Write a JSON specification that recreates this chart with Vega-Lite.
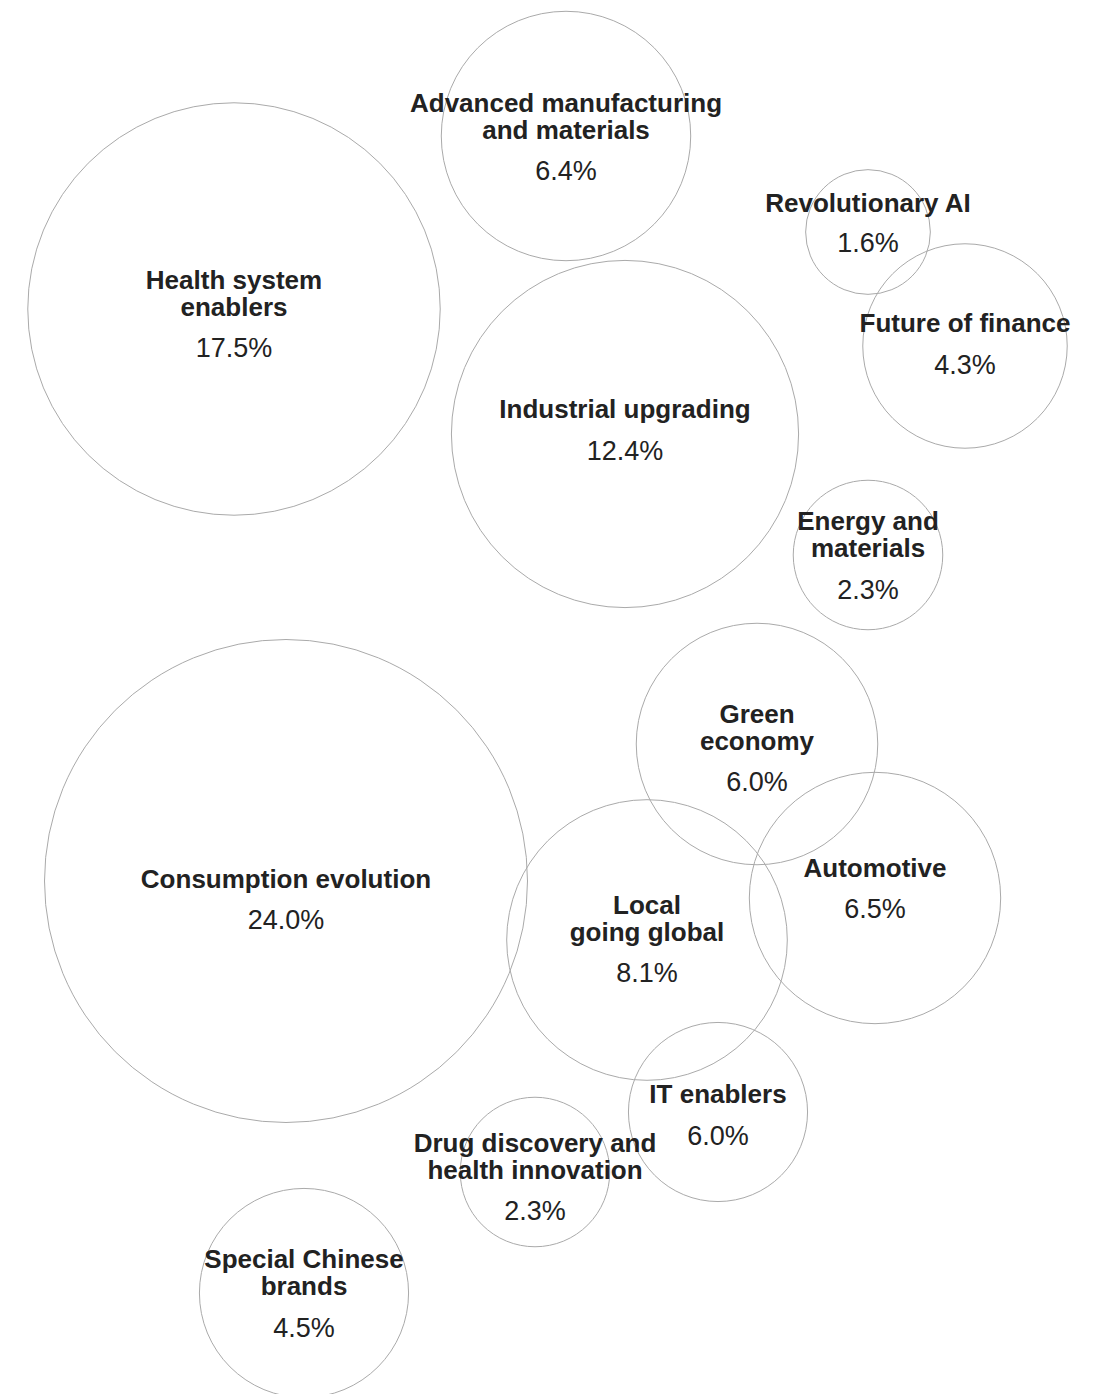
{
  "$schema": "https://vega.github.io/schema/vega-lite/v6.json",
  "width": 1105,
  "height": 1394,
  "padding": 0,
  "autosize": {"type": "none"},
  "background": "white",
  "config": {"view": {"stroke": null}},
  "data": {
    "values": [
      {"name": "Advanced manufacturing\nand materials", "pct": "6.4%", "bubble": 6.4, "x": 566, "cy": 136, "ny": 112, "py": 180},
      {"name": "Revolutionary AI", "pct": "1.6%", "bubble": 1.6, "x": 868, "cy": 232, "ny": 212, "py": 252},
      {"name": "Health system\nenablers", "pct": "17.5%", "bubble": 17.5, "x": 234, "cy": 309, "ny": 289, "py": 357},
      {"name": "Future of finance", "pct": "4.3%", "bubble": 4.3, "x": 965, "cy": 346, "ny": 332, "py": 374},
      {"name": "Industrial upgrading", "pct": "12.4%", "bubble": 12.4, "x": 625, "cy": 434, "ny": 418, "py": 460},
      {"name": "Energy and\nmaterials", "pct": "2.3%", "bubble": 2.3, "x": 868, "cy": 555, "ny": 530, "py": 599},
      {"name": "Green\neconomy", "pct": "6.0%", "bubble": 6.0, "x": 757, "cy": 744, "ny": 723, "py": 791},
      {"name": "Consumption evolution", "pct": "24.0%", "bubble": 24.0, "x": 286, "cy": 881, "ny": 888, "py": 929},
      {"name": "Automotive", "pct": "6.5%", "bubble": 6.5, "x": 875, "cy": 898, "ny": 877, "py": 918},
      {"name": "Local\ngoing global", "pct": "8.1%", "bubble": 8.1, "x": 647, "cy": 940, "ny": 914, "py": 982},
      {"name": "IT enablers", "pct": "6.0%", "bubble": 3.3, "x": 718, "cy": 1112, "ny": 1103, "py": 1145},
      {"name": "Drug discovery and\nhealth innovation", "pct": "2.3%", "bubble": 2.3, "x": 535, "cy": 1172, "ny": 1152, "py": 1220},
      {"name": "Special Chinese\nbrands", "pct": "4.5%", "bubble": 4.5, "x": 304, "cy": 1293, "ny": 1268, "py": 1337}
    ]
  },
  "layer": [
    {
      "mark": {"type": "point", "shape": "circle", "filled": false, "stroke": "#aaaaaa", "strokeWidth": 1, "opacity": 1},
      "encoding": {
        "x": {"field": "x", "type": "quantitative", "scale": {"domain": [0, 1105], "range": [0, 1105], "nice": false, "zero": false}, "axis": null},
        "y": {"field": "cy", "type": "quantitative", "scale": {"domain": [0, 1394], "range": [0, 1394], "nice": false, "zero": false}, "axis": null},
        "size": {"field": "bubble", "type": "quantitative", "scale": {"type": "linear", "domain": [0, 24], "range": [0, 233289], "zero": true}, "legend": null}
      }
    },
    {
      "mark": {"type": "text", "font": "Liberation Sans", "fontWeight": "bold", "fontSize": 26, "lineHeight": 27, "lineBreak": "\n", "align": "center", "baseline": "alphabetic", "color": "#222222"},
      "encoding": {
        "x": {"field": "x", "type": "quantitative", "scale": {"domain": [0, 1105], "range": [0, 1105], "nice": false, "zero": false}, "axis": null},
        "y": {"field": "ny", "type": "quantitative", "scale": {"domain": [0, 1394], "range": [0, 1394], "nice": false, "zero": false}, "axis": null},
        "text": {"field": "name", "type": "nominal"}
      }
    },
    {
      "mark": {"type": "text", "font": "Liberation Sans", "fontSize": 27, "align": "center", "baseline": "alphabetic", "color": "#222222"},
      "encoding": {
        "x": {"field": "x", "type": "quantitative", "scale": {"domain": [0, 1105], "range": [0, 1105], "nice": false, "zero": false}, "axis": null},
        "y": {"field": "py", "type": "quantitative", "scale": {"domain": [0, 1394], "range": [0, 1394], "nice": false, "zero": false}, "axis": null},
        "text": {"field": "pct", "type": "nominal"}
      }
    }
  ]
}
